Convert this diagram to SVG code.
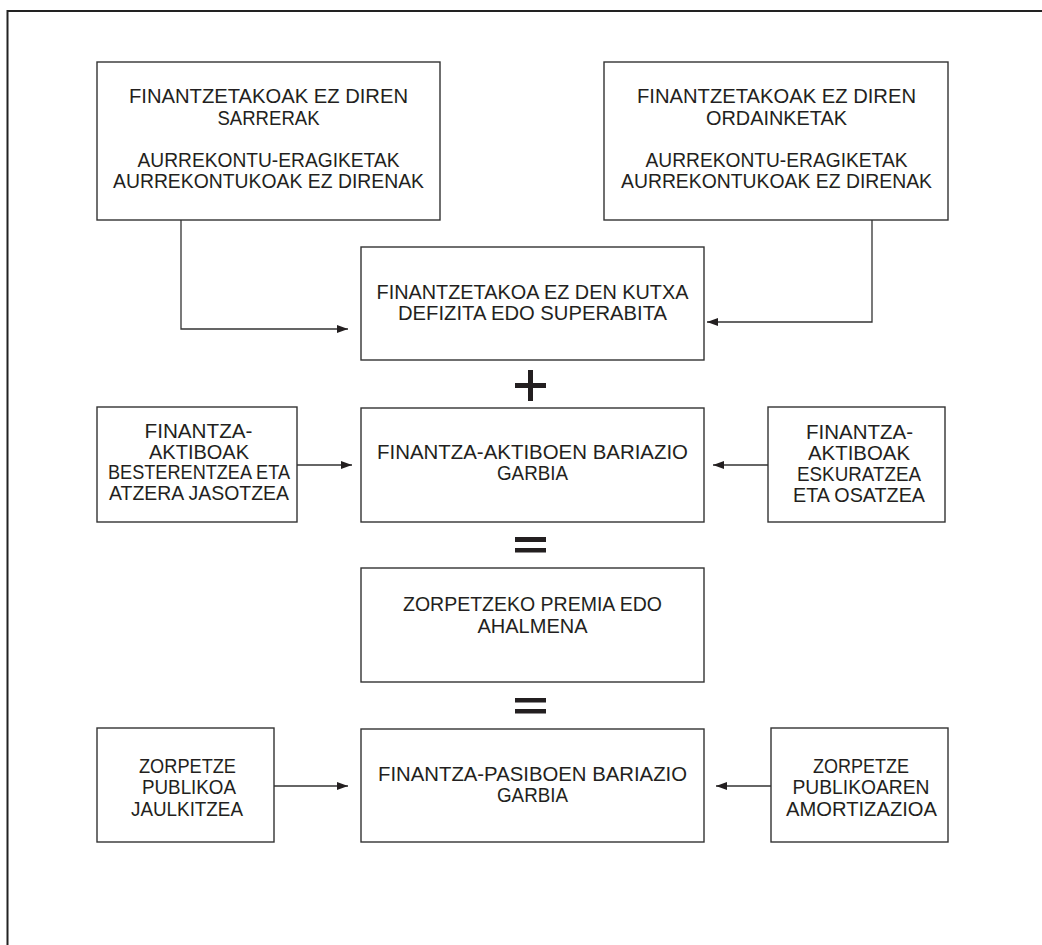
<svg xmlns="http://www.w3.org/2000/svg" width="1042" height="945" viewBox="0 0 1042 945">
  <style>
    .box { fill: #ffffff; stroke: #333333; stroke-width: 1.4; }
    .lbl { font-family: "Liberation Sans", Arial, sans-serif; font-size: 20.5px; fill: #231f20; text-anchor: middle; }
    .sm { font-size: 20px; }
    .link { fill: none; stroke: #333333; stroke-width: 1.3; marker-end: url(#tip); }
    .op { fill: #231f20; }
  </style>
  <defs>
    <marker id="tip" markerUnits="userSpaceOnUse" markerWidth="12" markerHeight="8" refX="11" refY="4" orient="auto">
      <path d="M0,0 L11,4 L0,8 z" fill="#231f20"/>
    </marker>
  </defs>

  <rect width="1042" height="945" fill="#ffffff"/>
  <!-- outer frame (left and top edges) -->
  <path d="M7.5,945 V11 H1042" fill="none" stroke="#222222" stroke-width="2"/>

  <!-- top row -->
  <g id="sarrerak">
    <rect class="box" x="97" y="62" width="343" height="158"/>
    <text class="lbl" x="268.5" y="103" textLength="279" lengthAdjust="spacingAndGlyphs">FINANTZETAKOAK EZ DIREN</text>
    <text class="lbl" x="268.5" y="125" textLength="102" lengthAdjust="spacingAndGlyphs">SARRERAK</text>
    <text class="lbl" x="268.5" y="167" textLength="262" lengthAdjust="spacingAndGlyphs">AURREKONTU-ERAGIKETAK</text>
    <text class="lbl" x="268.5" y="188" textLength="311" lengthAdjust="spacingAndGlyphs">AURREKONTUKOAK EZ DIRENAK</text>
  </g>
  <g id="ordainketak">
    <rect class="box" x="604" y="62" width="344" height="158"/>
    <text class="lbl" x="776.5" y="103" textLength="279" lengthAdjust="spacingAndGlyphs">FINANTZETAKOAK EZ DIREN</text>
    <text class="lbl" x="776.5" y="125" textLength="141" lengthAdjust="spacingAndGlyphs">ORDAINKETAK</text>
    <text class="lbl" x="776.5" y="167" textLength="262" lengthAdjust="spacingAndGlyphs">AURREKONTU-ERAGIKETAK</text>
    <text class="lbl" x="776.5" y="188" textLength="311" lengthAdjust="spacingAndGlyphs">AURREKONTUKOAK EZ DIRENAK</text>
  </g>

  <!-- central column -->
  <g id="kutxa">
    <rect class="box" x="361" y="247" width="343" height="113"/>
    <text class="lbl" x="532.5" y="299" textLength="312" lengthAdjust="spacingAndGlyphs">FINANTZETAKOA EZ DEN KUTXA</text>
    <text class="lbl" x="532.5" y="320" textLength="269" lengthAdjust="spacingAndGlyphs">DEFIZITA EDO SUPERABITA</text>
  </g>
  <g id="aktiboak">
    <rect class="box" x="361" y="408" width="343" height="114"/>
    <text class="lbl" x="532.5" y="459" textLength="311" lengthAdjust="spacingAndGlyphs">FINANTZA-AKTIBOEN BARIAZIO</text>
    <text class="lbl" x="532.5" y="480" textLength="71" lengthAdjust="spacingAndGlyphs">GARBIA</text>
  </g>
  <g id="premia">
    <rect class="box" x="361" y="568" width="343" height="114"/>
    <text class="lbl" x="532.5" y="611" textLength="259" lengthAdjust="spacingAndGlyphs">ZORPETZEKO PREMIA EDO</text>
    <text class="lbl" x="532.5" y="633" textLength="110" lengthAdjust="spacingAndGlyphs">AHALMENA</text>
  </g>
  <g id="pasiboak">
    <rect class="box" x="361" y="729" width="343" height="113"/>
    <text class="lbl" x="532.5" y="781" textLength="309" lengthAdjust="spacingAndGlyphs">FINANTZA-PASIBOEN BARIAZIO</text>
    <text class="lbl" x="532.5" y="802" textLength="71" lengthAdjust="spacingAndGlyphs">GARBIA</text>
  </g>

  <!-- side boxes, middle row -->
  <g id="besterentzea">
    <rect class="box" x="97" y="407" width="200" height="115"/>
    <text class="lbl sm" x="198.5" y="438" textLength="108" lengthAdjust="spacingAndGlyphs">FINANTZA-</text>
    <text class="lbl sm" x="199" y="458.5" textLength="100" lengthAdjust="spacingAndGlyphs">AKTIBOAK</text>
    <text class="lbl sm" x="199" y="479" textLength="182" lengthAdjust="spacingAndGlyphs">BESTERENTZEA ETA</text>
    <text class="lbl sm" x="199" y="499.5" textLength="180" lengthAdjust="spacingAndGlyphs">ATZERA JASOTZEA</text>
  </g>
  <g id="eskuratzea">
    <rect class="box" x="768" y="407" width="177" height="115"/>
    <text class="lbl sm" x="859.5" y="439" textLength="107" lengthAdjust="spacingAndGlyphs">FINANTZA-</text>
    <text class="lbl sm" x="859" y="460" textLength="102" lengthAdjust="spacingAndGlyphs">AKTIBOAK</text>
    <text class="lbl sm" x="859" y="481" textLength="124" lengthAdjust="spacingAndGlyphs">ESKURATZEA</text>
    <text class="lbl sm" x="859" y="502" textLength="132" lengthAdjust="spacingAndGlyphs">ETA OSATZEA</text>
  </g>

  <!-- side boxes, bottom row -->
  <g id="jaulkitzea">
    <rect class="box" x="97" y="728" width="177" height="114"/>
    <text class="lbl" x="187.5" y="773" textLength="97" lengthAdjust="spacingAndGlyphs">ZORPETZE</text>
    <text class="lbl" x="189" y="794" textLength="94" lengthAdjust="spacingAndGlyphs">PUBLIKOA</text>
    <text class="lbl" x="187" y="816" textLength="112" lengthAdjust="spacingAndGlyphs">JAULKITZEA</text>
  </g>
  <g id="amortizazioa">
    <rect class="box" x="771" y="728" width="177" height="114"/>
    <text class="lbl" x="861" y="773" textLength="96" lengthAdjust="spacingAndGlyphs">ZORPETZE</text>
    <text class="lbl" x="861" y="794" textLength="137" lengthAdjust="spacingAndGlyphs">PUBLIKOAREN</text>
    <text class="lbl" x="861.5" y="816" textLength="151" lengthAdjust="spacingAndGlyphs">AMORTIZAZIOA</text>
  </g>

  <!-- operators between the central boxes -->
  <g id="operators">
    <rect class="op" x="528" y="370" width="5" height="31"/>
    <rect class="op" x="515" y="383" width="31" height="5"/>
    <rect class="op" x="515" y="537" width="31" height="5"/>
    <rect class="op" x="515" y="548" width="31" height="4.5"/>
    <rect class="op" x="515" y="698" width="31" height="4.5"/>
    <rect class="op" x="515" y="709" width="31" height="4.5"/>
  </g>

  <!-- connectors -->
  <g id="connectors">
    <path class="link" d="M181,220 V329 H348"/>
    <path class="link" d="M872,220 V322 H707"/>
    <path class="link" d="M297,465 H352"/>
    <path class="link" d="M768,465 H713"/>
    <path class="link" d="M274,786 H348"/>
    <path class="link" d="M771,786 H716"/>
  </g>
</svg>
